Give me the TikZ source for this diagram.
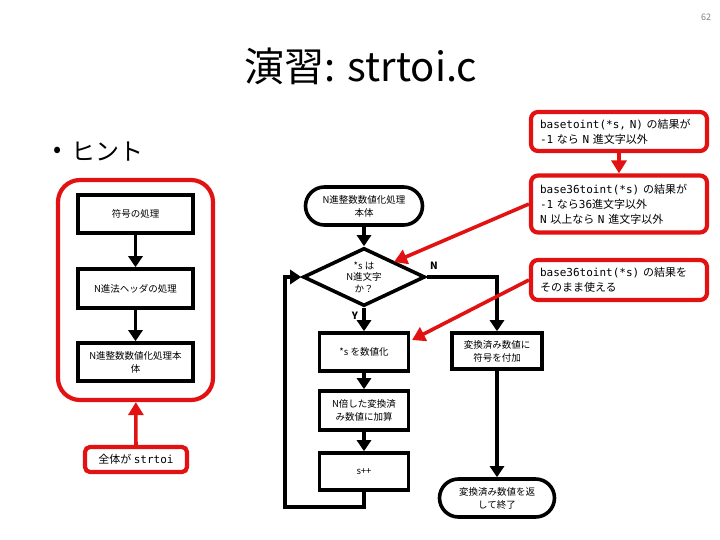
\documentclass[tikz,border=0pt]{standalone}
\usepackage{fontspec}
\setmainfont{Noto Sans CJK JP}
\newfontfamily\mono{DejaVu Sans Mono}
\usetikzlibrary{arrows.meta,shapes.geometric,shapes.misc}
\definecolor{redc}{RGB}{226,18,18}
\begin{document}
\begin{tikzpicture}[x=1pt,y=-1pt,
  fbox/.style={draw=black, line width=3.6pt, fill=white, align=center, inner sep=0pt,
    font=\fontsize{9.5}{13}\selectfont},
  term/.style={fbox, rounded rectangle},
  rbox/.style={draw=redc, line width=4.2pt, fill=white, rounded corners=7pt, align=left,
    inner xsep=9pt, inner ysep=0pt, text width=158pt, font=\fontsize{11}{15}\selectfont},
  blk/.style={line width=3.6pt, -{Triangle[width=14pt,length=11pt]}},
  rarr/.style={draw=redc, line width=3.6pt, -{Triangle[width=15pt,length=13pt]}},
  lbl/.style={font=\bfseries\fontsize{10}{12}\selectfont}
]
\useasboundingbox (0,0) rectangle (720,540);

% header
\node[text=gray, font=\fontsize{9}{10}\selectfont] (pg) at (706,17) {62};
\node[font=\fontsize{40}{44}\selectfont] (title) at (361,66) {演習: strtoi.c};
\node[font=\fontsize{24}{28}\selectfont, anchor=west] (bul) at (50,152) {•};
\node[font=\fontsize{24}{28}\selectfont, anchor=west] (hint) at (68,152) {ヒント};

% left group
\node[draw=redc, line width=4.2pt, rounded corners=22pt, minimum width=155pt, minimum height=220pt] (grp) at (135.5,290) {};
\node[fbox, minimum width=115pt, minimum height=38pt] (b1) at (135.5,214) {符号の処理};
\node[fbox, minimum width=115pt, minimum height=39pt] (b2) at (135.5,288.5) {N進法ヘッダの処理};
\node[fbox, minimum width=115pt, minimum height=38pt] (b3) at (135.5,362) {N進整数数値化処理本\\体};
\draw[blk] (b1) -- (b2);
\draw[blk] (b2) -- (b3);
\node[draw=redc, line width=4.2pt, rounded corners=5pt, minimum width=102pt, minimum height=25pt,
  font=\fontsize{11}{13}\selectfont] (all) at (136,459.5) {全体が {\mono strtoi}};
\draw[rarr] (all) -- (grp);

% middle flow
\node[term, minimum width=117pt, minimum height=38pt] (start) at (364,206) {N進整数数値化処理\\本体};
\node[fbox, diamond, aspect=2.1, minimum width=122pt, minimum height=58pt,
  font=\fontsize{9.5}{11.5}\selectfont] (dia) at (364,277) {*s は\\N進文字\\か？};
\node[fbox, minimum width=89pt, minimum height=38pt] (num) at (364,352) {*s を数値化};
\node[fbox, minimum width=89pt, minimum height=39pt] (mul) at (364,410.5) {N倍した変換済\\み数値に加算};
\node[fbox, minimum width=89pt, minimum height=37pt] (inc) at (364,471.5) {s++};
\node[fbox, minimum width=90pt, minimum height=36pt] (sign) at (497,351) {変換済み数値に\\符号を付加};
\node[term, minimum width=115pt, minimum height=38pt] (fin) at (497,498) {変換済み数値を返\\して終了};
\coordinate (lb) at (285,507);

\draw[blk] (start) -- (dia);
\draw[blk] (dia.south) -- (num.north);
\draw[blk] (num) -- (mul);
\draw[blk] (mul) -- (inc);
\draw[blk] (inc.south) |- (lb) |- (dia.west);
\draw[blk] (dia.east) -| (sign.north);
\draw[blk] (sign) -- (fin);
\node[lbl] (ylab) at (355,316) {Y};
\node[lbl] (nlab) at (434,266) {N};

% red notes
\node[rbox, minimum height=39pt] (r1) at (619,131.5) {{\mono basetoint(*s, N)} の結果が\\{\mono -1} なら {\mono N} 進文字以外};
\node[rbox, minimum height=57pt] (r2) at (619,204) {{\mono base36toint(*s)} の結果が\\{\mono -1} なら{\mono 36}進文字以外\\{\mono N} 以上なら {\mono N} 進文字以外};
\node[rbox, minimum height=40pt] (r3) at (619,280) {{\mono base36toint(*s)} の結果を\\そのまま使える};
\coordinate (t1) at (394,262);
\coordinate (t2) at (412,340);
\draw[rarr] (r1) -- (r2);
\draw[rarr] (r2.west) -- (t1);
\draw[rarr] (r3.west) -- (t2);
\end{tikzpicture}
\end{document}
